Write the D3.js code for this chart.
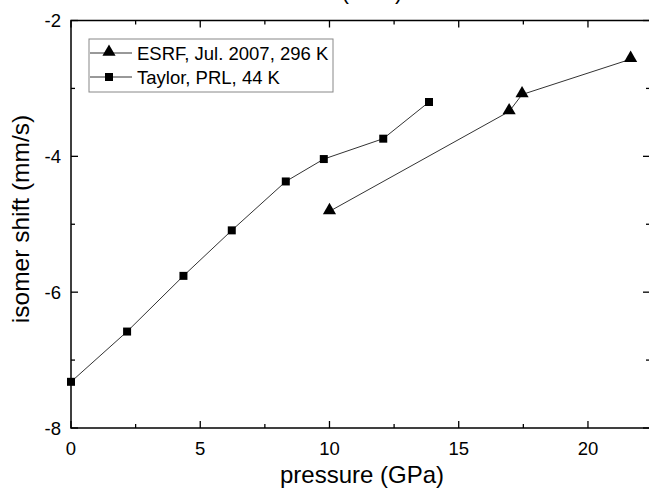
<!DOCTYPE html>
<html lang="en">
<head>
    <meta charset="UTF-8">
    <title>Isomer shift vs pressure</title>
    <script src="https://d3js.org/d3.v7.min.js"></script>
    <style>
        body { margin: 0; background: #fff; }
        svg { font-family: "Liberation Sans", Arial, sans-serif; }
    </style>
</head>
<body>
<div id="chart"></div>

<script>
    // Data
    const esrfPressure = [10.0, 16.95, 17.45, 21.65];
    const esrfShift = [-4.81, -3.34, -3.09, -2.57];
    const taylorPressure = [0, 2.17, 4.35, 6.22, 8.31, 9.78, 12.08, 13.85];
    const taylorShift = [-7.32, -6.58, -5.76, -5.09, -4.37, -4.04, -3.74, -3.20];
    const legendLabels = ["ESRF, Jul. 2007, 296 K", "Taylor, PRL, 44 K"];
    const xTicks = [0, 5, 10, 15, 20];
    const yTicks = [-8, -6, -4, -2];

    const width = 649;
    const height = 489;
    const margin = { left: 71, top: 20.5, right: 650, bottom: 428 };

    const svg = d3.select("#chart").append("svg")
        .attr("width", width)
        .attr("height", height);

    const x = d3.scaleLinear().domain([0, 22.4]).range([margin.left, margin.right]);
    const y = d3.scaleLinear().domain([-8, -2]).range([margin.bottom, margin.top]);

    const xMinor = d3.range(0, 22.5, 2.5).filter(v => v % 5 !== 0);
    const yMinor = [-7, -5, -3];

    // frame
    svg.append("rect")
        .attr("x", margin.left)
        .attr("y", margin.top)
        .attr("width", margin.right - margin.left)
        .attr("height", margin.bottom - margin.top)
        .attr("fill", "none")
        .attr("stroke", "#000")
        .attr("stroke-width", 1.5);

    // inward ticks on all four sides
    const tickG = svg.append("g").attr("stroke", "#000").attr("stroke-width", 1.3);
    xTicks.concat(xMinor).forEach(v => {
        const len = xTicks.includes(v) ? 7 : 4;
        tickG.append("line").attr("x1", x(v)).attr("x2", x(v))
            .attr("y1", margin.bottom).attr("y2", margin.bottom - len);
        tickG.append("line").attr("x1", x(v)).attr("x2", x(v))
            .attr("y1", margin.top).attr("y2", margin.top + len);
    });
    yTicks.concat(yMinor).forEach(v => {
        const len = yTicks.includes(v) ? 7 : 4;
        tickG.append("line").attr("y1", y(v)).attr("y2", y(v))
            .attr("x1", margin.left).attr("x2", margin.left + len);
        tickG.append("line").attr("y1", y(v)).attr("y2", y(v))
            .attr("x1", margin.right).attr("x2", margin.right - len);
    });

    // tick labels
    svg.append("g").selectAll("text")
        .data(xTicks)
        .join("text")
        .attr("x", d => x(d))
        .attr("y", 455)
        .attr("text-anchor", "middle")
        .attr("font-size", 18.5)
        .text(d => d);

    svg.append("g").selectAll("text")
        .data(yTicks)
        .join("text")
        .attr("x", 61)
        .attr("y", d => y(d) + 6.5)
        .attr("text-anchor", "end")
        .attr("font-size", 18.5)
        .text(d => d);

    // axis titles
    svg.append("text")
        .attr("x", 362)
        .attr("y", 483)
        .attr("text-anchor", "middle")
        .attr("font-size", 24)
        .text("pressure (GPa)");

    svg.append("text")
        .attr("transform", "translate(29,219) rotate(-90)")
        .attr("text-anchor", "middle")
        .attr("font-size", 24.5)
        .text("isomer shift (mm/s)");

    // title, clipped at the very top in the original
    svg.append("text")
        .attr("x", 372)
        .attr("y", -1.5)
        .attr("text-anchor", "middle")
        .attr("font-size", 23)
        .attr("xml:space", "preserve")
        .text("(\u2003\u2003)");

    // series
    const line = d3.line().x(d => x(d[0])).y(d => y(d[1]));
    const esrf = esrfPressure.map((p, i) => [p, esrfShift[i]]);
    const taylor = taylorPressure.map((p, i) => [p, taylorShift[i]]);

    [esrf, taylor].forEach(s => {
        svg.append("path")
            .datum(s)
            .attr("d", line)
            .attr("fill", "none")
            .attr("stroke", "#333")
            .attr("stroke-width", 1);
    });

    const tri = d3.symbol().type(d3.symbolTriangle).size(75);
    const sq = d3.symbol().type(d3.symbolSquare).size(64);

    svg.append("g").selectAll("path")
        .data(esrf)
        .join("path")
        .attr("transform", d => "translate(" + x(d[0]) + "," + (y(d[1]) - 1) + ")")
        .attr("d", tri)
        .attr("fill", "#000");

    svg.append("g").selectAll("path")
        .data(taylor)
        .join("path")
        .attr("transform", d => "translate(" + x(d[0]) + "," + y(d[1]) + ")")
        .attr("d", sq)
        .attr("fill", "#000");

    // legend
    const legend = svg.append("g");
    legend.append("rect")
        .attr("x", 89)
        .attr("y", 39)
        .attr("width", 244)
        .attr("height", 53)
        .attr("fill", "#fff")
        .attr("stroke", "#888")
        .attr("stroke-width", 1);

    const legendSymbols = [tri, sq];
    legendLabels.forEach((label, i) => {
        const cy = 53 + i * 24;
        legend.append("line")
            .attr("x1", 90).attr("x2", 132)
            .attr("y1", cy).attr("y2", cy)
            .attr("stroke", "#333").attr("stroke-width", 1);
        legend.append("path")
            .attr("transform", "translate(109," + (cy - (i === 0 ? 1 : 0)) + ")")
            .attr("d", legendSymbols[i])
            .attr("fill", "#000");
        legend.append("text")
            .attr("x", 137)
            .attr("y", cy + 6.5)
            .attr("font-size", 18.5)
            .text(label);
    });
</script>
</body>
</html>
